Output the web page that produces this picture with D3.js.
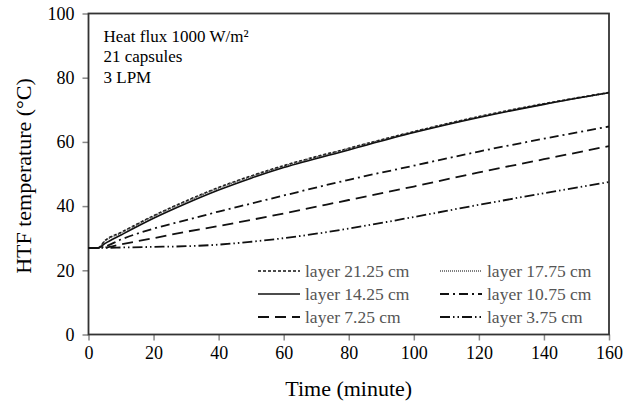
<!DOCTYPE html>
<html>
<head>
<meta charset="utf-8">
<script src="https://cdn.jsdelivr.net/npm/d3@7"></script>
<style>
  body { margin: 0; background: #fff; }
  text { font-family: "Liberation Serif", "Times New Roman", serif; }
</style>
</head>
<body>
<svg id="chart"></svg>
<script>
// time in minutes
const times = [0, 3, 5, 10, 20, 30, 40, 50, 60, 80, 100, 120, 140, 160];

const layer2125 = [27, 27, 29.2, 31.8, 37.0, 41.6, 45.8, 49.4, 52.6, 58.0, 63.2, 67.9, 71.9, 75.4];
const layer1775 = [27, 27, 29.0, 31.6, 36.8, 41.4, 45.6, 49.2, 52.4, 57.9, 63.1, 67.8, 71.8, 75.3];
const layer1425 = [27, 27, 28.3, 31.0, 36.2, 40.8, 45.0, 48.7, 52.0, 57.5, 62.9, 67.6, 71.7, 75.3];
const layer1075 = [27, 27, 27.4, 29.6, 33.0, 35.6, 38.3, 40.8, 43.3, 48.2, 52.6, 57.0, 61.0, 64.8];
const layer725  = [27, 27, 27.1, 28.1, 30.0, 32.0, 33.8, 35.7, 37.7, 41.9, 46.1, 50.5, 54.6, 58.7];
const layer375  = [27, 27, 27.0, 27.1, 27.3, 27.5, 28.0, 28.9, 30.0, 33.0, 36.6, 40.4, 44.0, 47.5];

const seriesNames = ["layer 21.25 cm", "layer 17.75 cm", "layer 14.25 cm",
                     "layer 10.75 cm", "layer 7.25 cm", "layer 3.75 cm"];
const seriesValues = [layer2125, layer1775, layer1425, layer1075, layer725, layer375];

const xTicks = [0, 20, 40, 60, 80, 100, 120, 140, 160];
const yTicks = [0, 20, 40, 60, 80, 100];

const notes = ["Heat flux 1000 W/m\u00b2", "21 capsules", "3 LPM"];

// line styles, same order as seriesNames
const dashes = ["3,2", "1,1", null, "9,4,2,4", "11,6", "10,3,1.5,3,1.5,3"];
const strokes = ["#111", "#555", "#111", "#111", "#111", "#111"];
const widths = [1.6, 1.6, 1.6, 1.8, 1.8, 1.8];

const W = 623, H = 410;
const svg = d3.select("#chart").attr("width", W).attr("height", H);

const margin = { top: 13.5, right: 14, bottom: 75.5, left: 88.5 };
const width = W - margin.left - margin.right;
const height = H - margin.top - margin.bottom;

const x = d3.scaleLinear().domain([0, 160]).range([0, width]);
const y = d3.scaleLinear().domain([0, 100]).range([height, 0]);

const g = svg.append("g")
  .attr("transform", `translate(${margin.left},${margin.top})`);

// x axis
const xAxis = g.append("g")
  .attr("transform", `translate(0,${height})`)
  .call(d3.axisBottom(x).tickValues(xTicks).tickSize(6).tickPadding(6).tickSizeOuter(0));
xAxis.selectAll("text").style("font-size", "18px").attr("fill", "#000");
xAxis.selectAll(".tick line").attr("stroke", "#888").attr("stroke-width", 1.5);
xAxis.select(".domain").remove();

// y axis
const yAxis = g.append("g")
  .call(d3.axisLeft(y).tickValues(yTicks).tickSize(6).tickPadding(8).tickSizeOuter(0));
yAxis.selectAll("text").style("font-size", "18px").attr("fill", "#000");
yAxis.selectAll(".tick line").attr("stroke", "#888").attr("stroke-width", 1.5);
yAxis.select(".domain").remove();

// frame
g.append("rect")
  .attr("x", 0).attr("y", 0)
  .attr("width", width).attr("height", height)
  .attr("fill", "none")
  .attr("stroke", "#333")
  .attr("stroke-width", 1.8);

// lines
const line = d3.line()
  .x((d, i) => x(times[i]))
  .y(d => y(d))
  .curve(d3.curveMonotoneX);

seriesValues.forEach((vals, k) => {
  g.append("path")
    .datum(vals)
    .attr("fill", "none")
    .attr("stroke", strokes[k])
    .attr("stroke-width", widths[k])
    .attr("stroke-dasharray", dashes[k])
    .attr("d", line);
});

// annotation
g.selectAll(".note")
  .data(notes)
  .enter()
  .append("text")
  .attr("class", "note")
  .attr("x", 15)
  .attr("y", (d, i) => 28 + i * 20.5)
  .style("font-size", "17px")
  .attr("fill", "#000")
  .text(d => d);

// legend
const legX = [258, 440];
const legY = [271, 294, 317];
seriesNames.forEach((name, k) => {
  const col = k % 2, row = Math.floor(k / 2);
  const lx = legX[col], ly = legY[row];
  svg.append("line")
    .attr("x1", lx).attr("x2", lx + 42)
    .attr("y1", ly).attr("y2", ly)
    .attr("stroke", strokes[k])
    .attr("stroke-width", widths[k])
    .attr("stroke-dasharray", dashes[k]);
  svg.append("text")
    .attr("x", lx + 47)
    .attr("y", ly + 5.5)
    .style("font-size", "17.5px")
    .attr("fill", "#555")
    .text(name);
});

// axis titles
svg.append("text")
  .attr("x", margin.left + width / 2)
  .attr("y", H - 14)
  .attr("text-anchor", "middle")
  .style("font-size", "22px")
  .attr("fill", "#000")
  .text("Time (minute)");

svg.append("text")
  .attr("transform", `translate(31, ${margin.top + height / 2 + 2}) rotate(-90)`)
  .attr("text-anchor", "middle")
  .style("font-size", "22px")
  .attr("fill", "#000")
  .text("HTF temperature (\u00b0C)");
</script>
</body>
</html>
